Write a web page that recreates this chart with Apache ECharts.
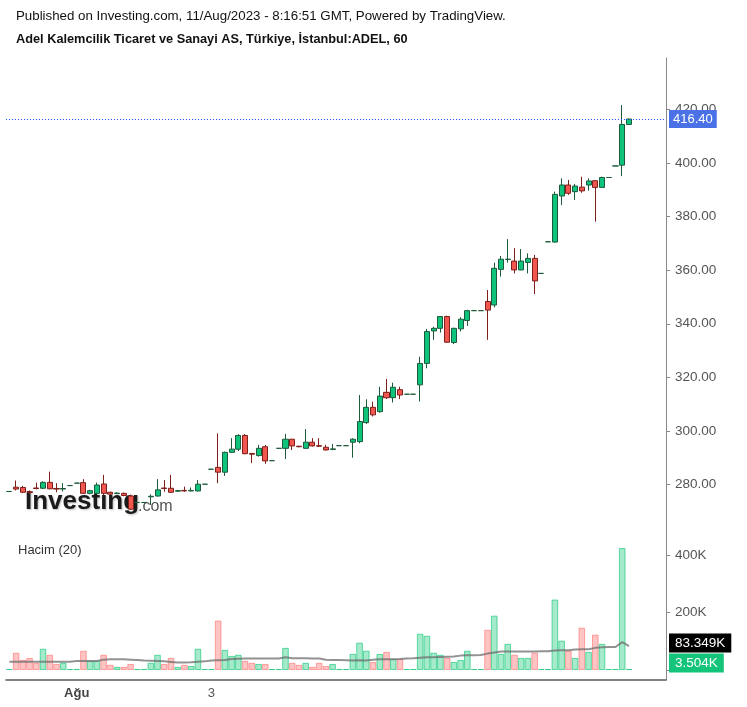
<!DOCTYPE html>
<html><head><meta charset="utf-8">
<script src="https://cdn.jsdelivr.net/npm/echarts@6/dist/echarts.min.js"></script>
<style>html,body{margin:0;padding:0;background:#fff}#c{width:747px;height:707px}</style>
</head><body><div id="c"></div><script>
// ---- data (hourly bars, TRY) ----
const opens  = [277.4,279.0,278.9,277.3,278.7,278.6,280.8,278.5,278.3,279.6,
                280.5,280.7,276.7,276.7,280.2,277.1,276.6,276.7,275.7,273.3,
                273.3,275.4,275.7,278.7,278.6,277.5,277.8,277.6,277.6,280.1,
                285.7,286.4,284.6,292.0,293.2,298.3,291.6,290.8,294.1,288.9,
                293.5,293.5,296.9,294.3,293.5,295.8,294.5,293.9,293.1,294.5,
                294.5,295.8,296.0,303.1,308.8,307.2,314.4,312.4,315.4,313.7,
                313.7,317.2,325.2,337.3,338.3,342.7,333.0,338.1,341.2,344.9,
                344.9,348.3,347.0,360.3,364.0,363.4,360.1,362.9,364.4,358.8,
                370.6,370.5,387.7,391.8,389.3,391.0,391.8,393.4,390.9,394.6,
                398.9,399.2,414.4];
const closes = [277.4,278.3,277.1,277.0,278.5,280.8,278.4,278.3,278.5,279.6,
                280.5,276.7,277.7,279.8,276.7,276.4,276.8,275.9,270.8,273.3,
                273.3,275.6,278.0,278.5,277.1,277.7,277.6,277.8,280.1,280.1,
                285.7,284.6,292.0,293.2,298.3,291.5,291.3,293.5,288.8,288.9,
                293.5,296.9,294.4,294.1,295.8,294.4,294.3,292.9,293.3,294.5,
                294.5,296.9,303.5,308.8,306.0,313.0,312.4,316.3,313.4,313.7,
                313.7,325.2,337.1,338.3,342.7,333.1,338.3,341.7,344.9,344.9,
                344.9,345.1,360.7,364.1,364.1,360.1,363.4,364.4,356.0,358.8,
                370.6,388.3,391.8,388.7,391.4,389.6,393.3,390.9,394.6,394.6,
                398.9,414.4,416.4];
const lows   = [277.4,277.8,276.8,276.5,278.2,278.3,278.2,277.1,277.4,279.6,
                280.5,276.5,276.3,276.5,276.1,276.1,276.4,275.6,270.5,273.3,
                273.3,272.4,275.5,277.3,276.9,277.3,277.3,277.4,277.4,280.1,
                285.7,280.5,283.2,292.0,292.5,291.3,288.0,290.4,287.7,288.9,
                293.5,289.5,292.9,293.9,293.3,294.2,294.0,292.7,292.8,294.5,
                294.5,290.0,295.4,302.6,305.4,306.8,311.9,310.6,311.9,313.7,
                313.7,311.0,323.4,334.0,336.7,332.9,332.4,337.1,339.2,344.9,
                344.9,334.0,346.1,357.6,362.8,358.8,360.0,358.8,351.1,358.8,
                370.6,370.3,384.3,388.1,386.2,388.9,389.7,378.1,390.9,394.6,
                398.9,395.1,414.2];
const highs  = [277.4,281.5,279.5,277.8,280.7,281.2,284.8,280.5,280.5,279.6,
                280.5,282.0,278.0,280.7,283.6,277.3,277.1,277.0,276.2,273.3,
                273.3,276.3,282.0,281.7,283.6,278.0,279.2,278.9,281.7,280.1,
                285.7,299.1,292.3,297.3,298.8,298.8,291.7,294.8,294.8,288.9,
                293.5,298.9,297.0,294.4,300.7,297.3,297.3,294.8,295.1,294.5,
                294.5,297.3,313.4,311.8,310.9,316.5,319.4,318.0,316.5,313.7,
                313.7,327.7,338.1,338.9,342.9,343.0,338.5,342.4,345.2,344.9,
                344.9,352.6,362.8,365.3,371.6,368.2,367.9,366.3,365.7,358.8,
                370.6,389.3,394.3,393.7,392.2,394.9,394.3,393.4,394.9,394.6,
                398.9,421.6,416.6];
// volume in thousands
const volumes = [0,60,35,42,25,74,53,21,25,0,
                 0,67,32,32,53,18,11,11,21,0,
                 0,25,53,21,42,11,18,14,74,0,
                 0,172,70,49,53,32,25,21,21,0,
                 0,77,25,18,25,11,25,14,21,0,
                 0,56,95,67,28,56,63,39,39,0,
                 0,126,119,60,53,42,28,35,67,0,
                 0,140,189,56,91,53,42,42,60,0,
                 0,245,102,67,42,147,63,123,91,0,
                 0,424,3.504];
const volumeMA = [29,29,29,29,29,29,29,29,29,29,
                  31,31,31,31,36,37,37,37,36,35,
                  33,32,31,30,28,26,26,27,29,30,
                  33,34,35,38,39,40,40,40,40,40,
                  40,44,41,41,41,40,40,36,35,35,
                  34,33,34,33,36,37,37,37,38,40,
                  41,43,44,44,45,46,47,50,51,51,
                  52,57,61,64,64,64,64,64,64,65,
                  65,68,69,69,71,72,72,77,79,80,
                  80,97,83.349];
const lastPrice = 416.40;
const lastVolume = 3.504;
const lastVolumeMA = 83.349;
const dayNames = ['31 Tem','1 Ağu','2 Ağu','3 Ağu','4 Ağu','7 Ağu','8 Ağu','9 Ağu','10 Ağu','11 Ağu'];
const hourNames = ['09:55','10:00','11:00','12:00','13:00','14:00','15:00','16:00','17:00','18:00'];
const tickLabels = {10:'Ağu', 30:'3', 50:'', 70:'', 90:''};
const boldTicks = {10:true};
const padBars = 5;

// ---- build ----
const categories = [];
dayNames.forEach(d => hourNames.forEach(h => categories.push(d + ' ' + h)));
categories.length = opens.length;
for (let i = 0; i < padBars; i++) categories.push('pad' + i);

const UP = '#0ec47c', UPB = '#1d5a3b', DN = '#f2574f', DNB = '#7d1f1a';
const candleData = opens.map((o, i) => [o, closes[i], lows[i], highs[i]]);
const volData = volumes.map((v, i) => ({
  value: v,
  itemStyle: closes[i] >= opens[i]
    ? {color: 'rgba(20,200,120,0.38)', borderColor: 'rgba(20,200,120,0.65)'}
    : {color: 'rgba(255,100,100,0.38)', borderColor: 'rgba(255,100,100,0.55)'}
}));

const FONT = '"Liberation Sans", Arial, sans-serif';
const chart = echarts.init(document.getElementById('c'), null, {renderer: 'canvas'});
const tickFn = idx => tickLabels.hasOwnProperty(idx);
const hiddenLine = {color: 'rgba(0,0,0,0)', width: 0};

chart.setOption({
  animation: false,
  backgroundColor: '#fff',
  textStyle: {fontFamily: FONT},
  grid: [
    {left: 6, right: 81, top: 58, height: 475},
    {left: 6, right: 81, top: 533, height: 147}
  ],
  xAxis: [
    {type: 'category', gridIndex: 0, data: categories, boundaryGap: true, show: false},
    {type: 'category', gridIndex: 1, data: categories, boundaryGap: true,
     axisLine: {onZero: false, lineStyle: {color: '#5a5a5a', width: 1.5}},
     axisTick: {alignWithLabel: true, interval: tickFn, length: 4, lineStyle: {color: '#666'}},
     axisLabel: {interval: tickFn, color: '#555', fontSize: 13, margin: 7,
       formatter: (v, idx) => {
         const t = tickLabels[idx] || '';
         return boldTicks[idx] ? '{b|' + t + '}' : t;
       },
       rich: {b: {fontWeight: 'bold', color: '#444', fontSize: 13}}},
     splitLine: {show: false}}
  ],
  yAxis: [
    {type: 'value', gridIndex: 0, position: 'right', min: 261.9, max: 439.2, splitNumber: 9,
     axisLine: {show: true, lineStyle: {color: '#888'}},
     axisTick: {show: true, length: 4, lineStyle: {color: '#888'}},
     axisLabel: {color: '#555', fontSize: 13.5, margin: 9, showMinLabel: false, showMaxLabel: false,
       formatter: v => v.toFixed(2)},
     splitLine: {show: false}},
    {type: 'value', gridIndex: 1, position: 'right', min: -34.8, max: 476.5, splitNumber: 3,
     axisLine: {show: true, lineStyle: {color: '#888'}},
     axisTick: {show: true, length: 4, lineStyle: {color: '#888'}},
     axisLabel: {color: '#555', fontSize: 13.5, margin: 9, showMinLabel: false, showMaxLabel: false,
       formatter: v => v === 0 ? '' : v + 'K'},
     splitLine: {show: false}}
  ],
  series: [
    {type: 'candlestick', xAxisIndex: 0, yAxisIndex: 0, data: candleData, barWidth: '82%', z: 5,
     itemStyle: {color: UP, color0: DN, borderColor: UPB, borderColor0: DNB, borderColorDoji: UPB, borderWidth: 1},
     markLine: {silent: true, symbol: 'none', z: 10,
       data: [{yAxis: lastPrice}],
       lineStyle: {color: '#1f55ff', type: [1, 2], width: 1, opacity: 1},
       label: {position: 'end', distance: 3, formatter: lastPrice.toFixed(2), color: '#fff',
         backgroundColor: '#4a72e6', padding: [3, 4, 2, 4], fontSize: 13, fontFamily: FONT}}},
    {type: 'bar', xAxisIndex: 1, yAxisIndex: 1, data: volData, barCategoryGap: '2%', barMinHeight: 1, z: 3,
     itemStyle: {borderWidth: 1},
     markLine: {silent: true, symbol: 'none', z: 10,
       data: [{yAxis: lastVolume}],
       lineStyle: hiddenLine,
       label: {show: true, position: 'end', distance: 3, offset: [0, -6], formatter: lastVolume.toFixed(3) + 'K', color: '#fff',
         backgroundColor: '#14c47a', padding: [3, 6, 2, 6], fontSize: 13.5, fontFamily: FONT}}},
    {type: 'line', xAxisIndex: 1, yAxisIndex: 1, data: volumeMA, symbol: 'none', z: 4,
     lineStyle: {color: 'rgba(110,110,110,0.75)', width: 2},
     markLine: {silent: true, symbol: 'none', z: 10,
       data: [{yAxis: lastVolumeMA}],
       lineStyle: hiddenLine,
       label: {show: true, position: 'end', distance: 3, offset: [0, -3], formatter: lastVolumeMA.toFixed(3) + 'K', color: '#fff',
         backgroundColor: '#000', padding: [3, 6, 2, 6], fontSize: 13.5, fontFamily: FONT}}}
  ],
  graphic: [
    {type: 'text', left: 16, top: 10, z: 1, style: {text: 'Published on Investing.com, 11/Aug/2023 - 8:16:51 GMT, Powered by TradingView.',
      font: '13.3px ' + FONT, fill: '#111'}},
    {type: 'text', left: 16, top: 33, z: 1, style: {text: 'Adel Kalemcilik Ticaret ve Sanayi AS, Türkiye, İstanbul:ADEL, 60',
      font: 'bold 12.75px ' + FONT, fill: '#111'}},
    {type: 'text', left: 18, top: 544, z: 1, style: {text: 'Hacim (20)', font: '13px ' + FONT, fill: '#333'}},
    {type: 'text', left: 25, top: 489, z: 0, style: {text: 'Investing', font: 'bold 26px ' + FONT, fill: '#1a1a1a',
      textShadowColor: 'rgba(0,0,0,0.25)', textShadowBlur: 2, textShadowOffsetX: 1, textShadowOffsetY: 1}},
    {type: 'text', left: 138, top: 499, z: 0, style: {text: '.com', font: '16px ' + FONT, fill: '#555'}}
  ]
});
</script></body></html>
